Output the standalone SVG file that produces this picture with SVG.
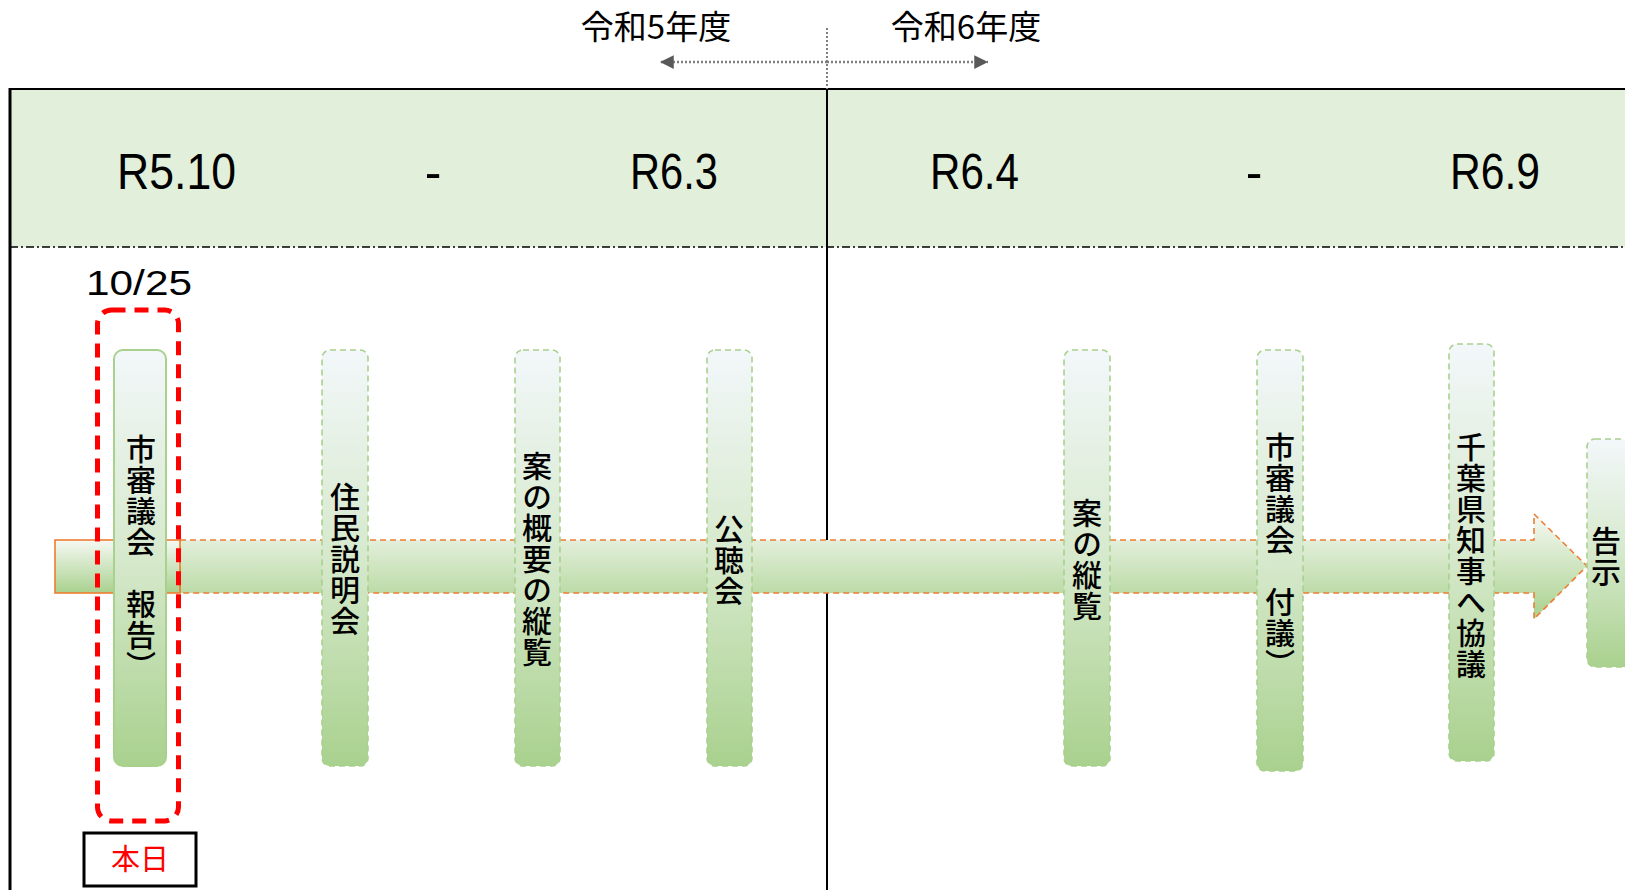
<svg xmlns="http://www.w3.org/2000/svg" width="1625" height="890" viewBox="0 0 1625 890">
<style>
.lat{font-family:"Liberation Sans","Noto Sans CJK JP",sans-serif;fill:#000}
.jp{font-family:"Noto Sans CJK JP",sans-serif;fill:#000}
.vt{font-family:"Noto Sans CJK JP",sans-serif;font-size:30px;font-weight:500;writing-mode:vertical-rl;text-anchor:middle;letter-spacing:1px;fill:#000}
.bar{fill:url(#barG);stroke:#A9D18E;stroke-width:1.6;stroke-dasharray:6 4}
</style>
<defs>
<linearGradient id="barG" x1="0" y1="0" x2="0" y2="1">
<stop offset="0" stop-color="#F3F7FA"/>
<stop offset="0.5" stop-color="#D6E9CC"/>
<stop offset="1" stop-color="#A9D18E"/>
</linearGradient>
<linearGradient id="arrG" x1="0" y1="0" x2="0" y2="1">
<stop offset="0" stop-color="#F6F9F4"/>
<stop offset="1" stop-color="#A9D18E"/>
</linearGradient>
<marker id="gh" viewBox="0 0 10 10" refX="10" refY="5" markerWidth="6.5" markerHeight="5.5" orient="auto-start-reverse">
<path d="M0,0 L10,5 L0,10 z" fill="#595959"/>
</marker>
</defs>
<rect x="0" y="0" width="1625" height="890" fill="#FFFFFF"/>

<g id="header">
<rect x="10" y="89" width="1625" height="158" fill="#E2EFDA"/>
<line x1="10" y1="89" x2="1625" y2="89" stroke="#000" stroke-width="2"/>
<line x1="10" y1="88" x2="10" y2="890" stroke="#000" stroke-width="3"/>
<line x1="10" y1="247" x2="1625" y2="247" stroke="#000" stroke-width="1.5" stroke-dasharray="8 3 2 3"/>
<line x1="827" y1="89" x2="827" y2="890" stroke="#000" stroke-width="2"/>
<text class="lat" x="117" y="189" font-size="50" textLength="119" lengthAdjust="spacingAndGlyphs">R5.10</text>
<text class="lat" x="433" y="189" font-size="50" text-anchor="middle">-</text>
<text class="lat" x="630" y="189" font-size="50" textLength="88" lengthAdjust="spacingAndGlyphs">R6.3</text>
<text class="lat" x="930" y="189" font-size="50" textLength="89" lengthAdjust="spacingAndGlyphs">R6.4</text>
<text class="lat" x="1254" y="189" font-size="50" text-anchor="middle">-</text>
<text class="lat" x="1450" y="189" font-size="50" textLength="90" lengthAdjust="spacingAndGlyphs">R6.9</text>
</g>

<g id="fiscal-years">
<text class="jp" x="656" y="39" font-size="33" text-anchor="middle">令和5年度</text>
<text class="jp" x="966" y="39" font-size="33" text-anchor="middle">令和6年度</text>
</g>

<g id="connectors">
<line x1="827" y1="28" x2="827" y2="89" stroke="#7F7F7F" stroke-width="2" stroke-dasharray="2 2"/>
<line x1="827" y1="62" x2="660" y2="62" stroke="#7F7F7F" stroke-width="2.5" stroke-dasharray="2 2" marker-end="url(#gh)"/>
<line x1="827" y1="62" x2="988" y2="62" stroke="#7F7F7F" stroke-width="2.5" stroke-dasharray="2 2" marker-end="url(#gh)"/>
</g>

<g id="timeline-arrow">
<path d="M180,540 L1534,540 L1534,514 L1587,566 L1534,619 L1534,593 L180,593 Z" fill="url(#arrG)" stroke="#ED7D31" stroke-width="1.6" stroke-dasharray="6 4"/>
<rect x="55" y="540" width="125" height="53" fill="url(#arrG)" stroke="#ED7D31" stroke-width="1.6"/>
</g>

<g id="node-1">
<rect x="114" y="350" width="52" height="416" rx="9" fill="url(#barG)" stroke="#A9D18E" stroke-width="2"/>
<text class="vt" x="141" y="558">市審議会　報告）</text>
</g>
<g id="node-2">
<rect class="bar" x="322" y="350" width="46" height="416" rx="8"/>
<text class="vt" x="345" y="559">住民説明会</text>
</g>
<g id="node-3">
<rect class="bar" x="515" y="350" width="45" height="416" rx="8"/>
<text class="vt" x="537" y="559">案の概要の縦覧</text>
</g>
<g id="node-4">
<rect class="bar" x="707" y="350" width="45" height="416" rx="8"/>
<text class="vt" x="729" y="560">公聴会</text>
</g>
<g id="node-5">
<rect class="bar" x="1064" y="350" width="46" height="416" rx="8"/>
<text class="vt" x="1087" y="560">案の縦覧</text>
</g>
<g id="node-6">
<rect class="bar" x="1257" y="350" width="46" height="421" rx="8"/>
<text class="vt" x="1280" y="556">市審議会　付議）</text>
</g>
<g id="node-7">
<rect class="bar" x="1449" y="344" width="45" height="417" rx="8"/>
<text class="vt" x="1471" y="556">千葉県知事へ協議</text>
</g>
<g id="node-8">
<rect class="bar" x="1587" y="439" width="46" height="228" rx="8"/>
<text class="vt" x="1606" y="557">告示</text>
</g>

<g id="today">
<text class="lat" x="86" y="295" font-size="35" textLength="106" lengthAdjust="spacingAndGlyphs">10/25</text>
<rect x="97.5" y="310" width="81" height="511" rx="14" fill="none" stroke="#FF0000" stroke-width="5" stroke-dasharray="14 9"/>
<rect x="84" y="833" width="112" height="53" fill="#FFFFFF" stroke="#000" stroke-width="3"/>
<text class="jp" x="140" y="870" font-size="29" text-anchor="middle" style="fill:#FF0000">本日</text>
</g>
</svg>
